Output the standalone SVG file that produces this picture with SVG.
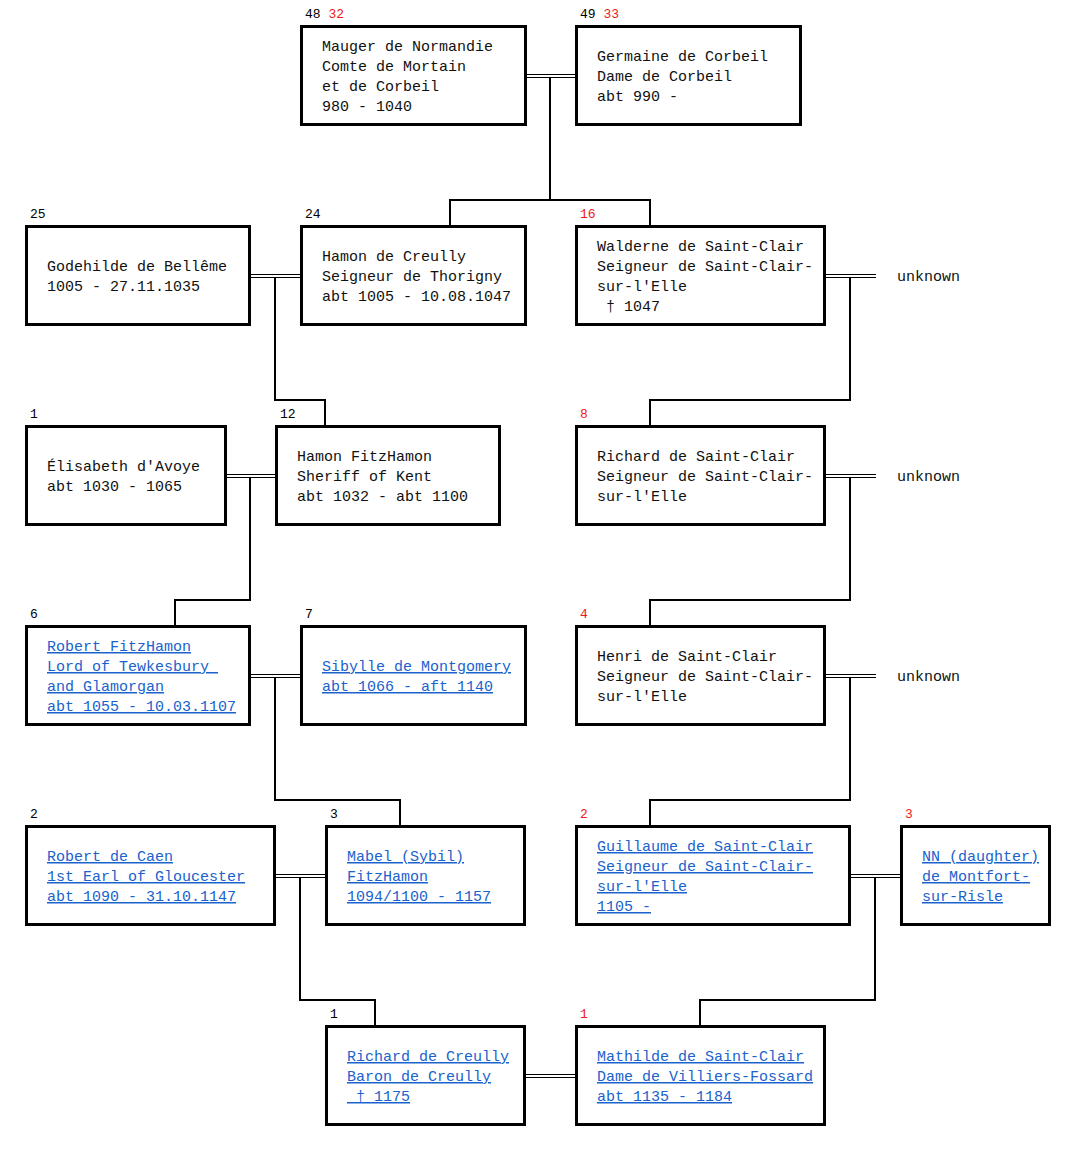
<svg xmlns="http://www.w3.org/2000/svg" width="1076" height="1151" viewBox="0 0 1076 1151">
<style>
.box{fill:#fff;stroke:#000;stroke-width:3}
.t{font-family:"Liberation Mono","Courier New",monospace;font-size:15px;fill:#111;white-space:pre}
.lk{fill:#1a62cc;text-decoration:underline}
.n{font-family:"Liberation Mono","Courier New",monospace;font-size:13px;fill:#000;white-space:pre}
.r{fill:#f01818}
.c{fill:none;stroke:#000;stroke-width:2}
.d{fill:none;stroke:#000;stroke-width:1}
</style>
<rect width="1076" height="1151" fill="#fff"/>
<g id="connectors">
<path class="d" d="M527 74.5H575M527 77.5H575"/>
<path class="c" d="M550 78V200M450 200H650M450 199V225M650 199V225"/>
<path class="d" d="M251 274.5H300M251 277.5H300"/>
<path class="c" d="M275 278V400H325V425"/>
<path class="d" d="M826 274.5H876M826 277.5H876"/>
<path class="c" d="M850 278V400H650V425"/>
<path class="d" d="M227 474.5H275M227 477.5H275"/>
<path class="c" d="M250 478V600H175V625"/>
<path class="d" d="M826 474.5H876M826 477.5H876"/>
<path class="c" d="M850 478V600H650V625"/>
<path class="d" d="M251 674.5H300M251 677.5H300"/>
<path class="c" d="M275 678V800H400V825"/>
<path class="d" d="M826 674.5H876M826 677.5H876"/>
<path class="c" d="M850 678V800H650V825"/>
<path class="d" d="M276 874.5H325M276 877.5H325"/>
<path class="c" d="M300 878V1000H375V1025"/>
<path class="d" d="M851 874.5H900M851 877.5H900"/>
<path class="c" d="M875 878V1000H700V1025"/>
<path class="d" d="M526 1074.5H575M526 1077.5H575"/>
</g>
<g id="unknown1"><text class="t" x="897" y="281">unknown</text></g>
<g id="unknown2"><text class="t" x="897" y="481">unknown</text></g>
<g id="unknown3"><text class="t" x="897" y="681">unknown</text></g>

<g id="mauger">
<text class="n" x="305" y="18">48 <tspan class="r">32</tspan></text>
<rect class="box" x="301.5" y="26.5" width="224" height="98"/>
<text class="t" x="322" y="51">Mauger de Normandie</text>
<text class="t" x="322" y="71">Comte de Mortain</text>
<text class="t" x="322" y="91">et de Corbeil</text>
<text class="t" x="322" y="111">980 - 1040</text>
</g>
<g id="germaine">
<text class="n" x="580" y="18">49 <tspan class="r">33</tspan></text>
<rect class="box" x="576.5" y="26.5" width="224" height="98"/>
<text class="t" x="597" y="61">Germaine de Corbeil</text>
<text class="t" x="597" y="81">Dame de Corbeil</text>
<text class="t" x="597" y="101">abt 990 -</text>
</g>

<g id="godehilde">
<text class="n" x="30" y="218">25</text>
<rect class="box" x="26.5" y="226.5" width="223" height="98"/>
<text class="t" x="47" y="271">Godehilde de Bellême</text>
<text class="t" x="47" y="291">1005 - 27.11.1035</text>
</g>
<g id="hamon-creully">
<text class="n" x="305" y="218">24</text>
<rect class="box" x="301.5" y="226.5" width="224" height="98"/>
<text class="t" x="322" y="261">Hamon de Creully</text>
<text class="t" x="322" y="281">Seigneur de Thorigny</text>
<text class="t" x="322" y="301">abt 1005 - 10.08.1047</text>
</g>
<g id="walderne">
<text class="n r" x="580" y="218">16</text>
<rect class="box" x="576.5" y="226.5" width="248" height="98"/>
<text class="t" x="597" y="251">Walderne de Saint-Clair</text>
<text class="t" x="597" y="271">Seigneur de Saint-Clair-</text>
<text class="t" x="597" y="291">sur-l'Elle</text>
<text class="t" x="597" y="311"> † 1047</text>
</g>

<g id="elisabeth">
<text class="n" x="30" y="418">1</text>
<rect class="box" x="26.5" y="426.5" width="199" height="98"/>
<text class="t" x="47" y="471">Élisabeth d'Avoye</text>
<text class="t" x="47" y="491">abt 1030 - 1065</text>
</g>
<g id="hamon-fitzhamon">
<text class="n" x="280" y="418">12</text>
<rect class="box" x="276.5" y="426.5" width="223" height="98"/>
<text class="t" x="297" y="461">Hamon FitzHamon</text>
<text class="t" x="297" y="481">Sheriff of Kent</text>
<text class="t" x="297" y="501">abt 1032 - abt 1100</text>
</g>
<g id="richard-saint-clair">
<text class="n r" x="580" y="418">8</text>
<rect class="box" x="576.5" y="426.5" width="248" height="98"/>
<text class="t" x="597" y="461">Richard de Saint-Clair</text>
<text class="t" x="597" y="481">Seigneur de Saint-Clair-</text>
<text class="t" x="597" y="501">sur-l'Elle</text>
</g>

<g id="robert-fitzhamon">
<text class="n" x="30" y="618">6</text>
<rect class="box" x="26.5" y="626.5" width="223" height="98"/>
<text class="t lk" x="47" y="651">Robert FitzHamon</text>
<text class="t lk" x="47" y="671">Lord of Tewkesbury </text>
<text class="t lk" x="47" y="691">and Glamorgan</text>
<text class="t lk" x="47" y="711">abt 1055 - 10.03.1107</text>
</g>
<g id="sibylle">
<text class="n" x="305" y="618">7</text>
<rect class="box" x="301.5" y="626.5" width="224" height="98"/>
<text class="t lk" x="322" y="671">Sibylle de Montgomery</text>
<text class="t lk" x="322" y="691">abt 1066 - aft 1140</text>
</g>
<g id="henri">
<text class="n r" x="580" y="618">4</text>
<rect class="box" x="576.5" y="626.5" width="248" height="98"/>
<text class="t" x="597" y="661">Henri de Saint-Clair</text>
<text class="t" x="597" y="681">Seigneur de Saint-Clair-</text>
<text class="t" x="597" y="701">sur-l'Elle</text>
</g>

<g id="robert-caen">
<text class="n" x="30" y="818">2</text>
<rect class="box" x="26.5" y="826.5" width="248" height="98"/>
<text class="t lk" x="47" y="861">Robert de Caen</text>
<text class="t lk" x="47" y="881">1st Earl of Gloucester</text>
<text class="t lk" x="47" y="901">abt 1090 - 31.10.1147</text>
</g>
<g id="mabel">
<text class="n" x="330" y="818">3</text>
<rect class="box" x="326.5" y="826.5" width="198" height="98"/>
<text class="t lk" x="347" y="861">Mabel (Sybil)</text>
<text class="t lk" x="347" y="881">FitzHamon</text>
<text class="t lk" x="347" y="901">1094/1100 - 1157</text>
</g>
<g id="guillaume">
<text class="n r" x="580" y="818">2</text>
<rect class="box" x="576.5" y="826.5" width="273" height="98"/>
<text class="t lk" x="597" y="851">Guillaume de Saint-Clair</text>
<text class="t lk" x="597" y="871">Seigneur de Saint-Clair-</text>
<text class="t lk" x="597" y="891">sur-l'Elle</text>
<text class="t lk" x="597" y="911">1105 -</text>
</g>
<g id="nn-montfort">
<text class="n r" x="905" y="818">3</text>
<rect class="box" x="901.5" y="826.5" width="148" height="98"/>
<text class="t lk" x="922" y="861">NN (daughter)</text>
<text class="t lk" x="922" y="881">de Montfort-</text>
<text class="t lk" x="922" y="901">sur-Risle</text>
</g>

<g id="richard-creully">
<text class="n" x="330" y="1018">1</text>
<rect class="box" x="326.5" y="1026.5" width="198" height="98"/>
<text class="t lk" x="347" y="1061">Richard de Creully</text>
<text class="t lk" x="347" y="1081">Baron de Creully</text>
<text class="t lk" x="347" y="1101"> † 1175</text>
</g>
<g id="mathilde">
<text class="n r" x="580" y="1018">1</text>
<rect class="box" x="576.5" y="1026.5" width="248" height="98"/>
<text class="t lk" x="597" y="1061">Mathilde de Saint-Clair</text>
<text class="t lk" x="597" y="1081">Dame de Villiers-Fossard</text>
<text class="t lk" x="597" y="1101">abt 1135 - 1184</text>
</g>
</svg>
